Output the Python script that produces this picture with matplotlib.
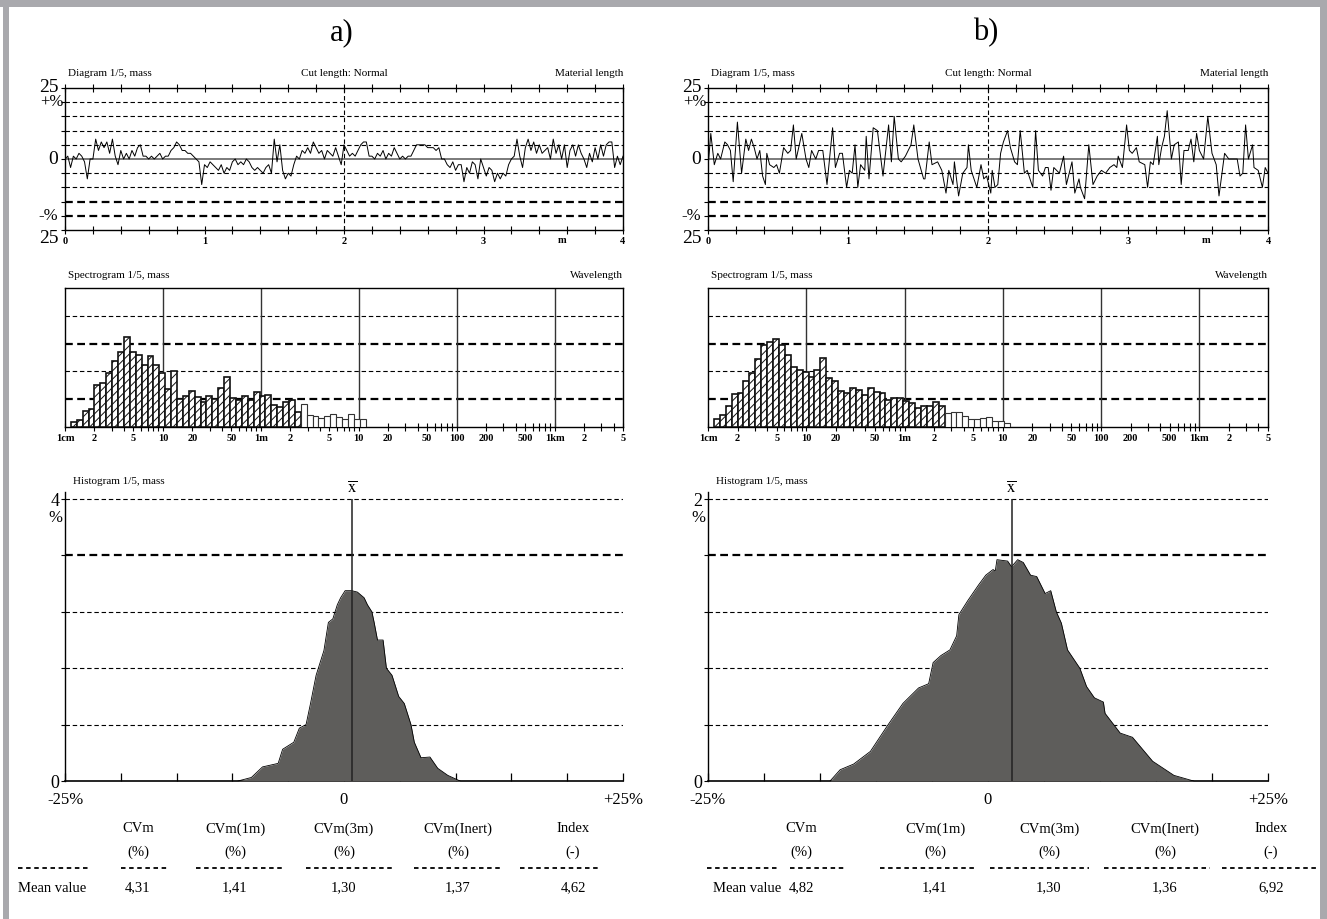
import matplotlib
matplotlib.use("Agg")
import matplotlib.pyplot as plt
import numpy as np
from matplotlib.patches import Rectangle
from matplotlib.lines import Line2D
from matplotlib.ticker import MultipleLocator, FixedLocator, NullFormatter

plt.rcParams['font.family'] = ['Liberation Serif', 'DejaVu Serif']
plt.rcParams['mathtext.fontset'] = 'stix'
plt.rcParams['hatch.linewidth'] = 0.7

# --- Diagram (mass variation along 4 m, in %) ---
# a) samples every 0.02 m
diag_a = [0, 1, -3, 1, 0, 2, 1, -1, -7, 0, 0,
          7, 3, 6, 4, 6, 2, 7, 1, -2, 3,
          0, 2, 0, 3, 1, 4, 5, 1, 1, 0,
          1, 0, 1, 2, 0, 1, 1, 3, 4, 6,
          5, 3, 3, 2, 2, 1, 0, -1, -9, -2,
          -3, -1, -2, -3, -4, -2, -5, -3, -4, -1,
          0, -2, -1, -2, 0, -1, -3, -4, -3, -4,
          -5, -3, -2, -5, 7, -1, 5, -4, -7, -5,
          -6, -2, 1, 0, 3, 2, 4, 2, 6, 4,
          2, 3, 0, 3, 2, 1, 4, 1, -2, 5,
          3, 1, 2, 1, 3, 5, 6, 6, 1, 1,
          0, 2, 1, 3, 0, 2, 1, 4, 2, 0,
          1, 0, 1, 1, 3, 5, 5, 5, 5, 4,
          4, 4, 3, 4, 0, 0, -2, -3, -1, -4,
          -2, -2, -8, -3, -5, -1, -2, -7, 0, -3,
          -6, -3, -4, -8, -5, -7, -5, -6, -2, 0,
          1, 7, 1, -3, 4, 7, 3, 6, 2, 5,
          2, 3, 4, 0, 7, 2, 5, 0, 5, -3,
          3, 5, 1, 5, 2, 0, -3, 2, -1, 4,
          0, 5, 1, 5, 6, 6, -3, 1, -2, 1]

# b) irregular samples (m, %)
diag_b_x = [0.00, 0.02, 0.045, 0.07, 0.09, 0.12, 0.14, 0.16, 0.18, 0.21, 0.24, 0.27, 0.29, 0.31,
            0.33, 0.35, 0.37, 0.39, 0.41, 0.42, 0.44, 0.47, 0.49, 0.51, 0.54, 0.57, 0.59, 0.61,
            0.63, 0.67, 0.70, 0.72, 0.74, 0.77, 0.79, 0.82, 0.85, 0.89, 0.91, 0.94, 0.96, 0.99,
            1.01, 1.03, 1.05, 1.07, 1.09, 1.12, 1.13, 1.15, 1.18, 1.21, 1.25, 1.29, 1.31, 1.33,
            1.36, 1.38, 1.41, 1.45, 1.47, 1.50, 1.54, 1.55, 1.58, 1.60, 1.64, 1.67, 1.70, 1.72,
            1.75, 1.76, 1.79, 1.82, 1.85, 1.86, 1.88, 1.92, 1.95, 1.97, 1.99, 2.02, 2.03, 2.05,
            2.07, 2.09, 2.11, 2.14, 2.16, 2.19, 2.21, 2.23, 2.26, 2.28, 2.32, 2.34, 2.36, 2.39,
            2.41, 2.43, 2.45, 2.47, 2.51, 2.54, 2.56, 2.57, 2.60, 2.62, 2.65, 2.66, 2.69, 2.72,
            2.75, 2.78, 2.81, 2.84, 2.87, 2.90, 2.92, 2.93, 2.96, 2.99, 3.01, 3.03, 3.06, 3.08,
            3.12, 3.14, 3.16, 3.18, 3.21, 3.22, 3.24, 3.26, 3.28, 3.31, 3.33, 3.36, 3.38, 3.40,
            3.43, 3.45, 3.47, 3.49, 3.51, 3.54, 3.57, 3.60, 3.63, 3.65, 3.69, 3.72, 3.75, 3.78,
            3.80, 3.82, 3.84, 3.86, 3.89, 3.90, 3.93, 3.96, 3.98, 4.00]
diag_b_y = [-3, 9, -2, 2, 0, 6, 5, 3, -8, 13, -5, 7, 3, 7,
            4, 0, 3, -6, -9, 2, -2, -3, -2, -5, 4, 2, 3, 12,
            0, 9, 0, -3, 3, 0, 3, 3, -9, 11, -3, 2, 2, -10,
            -4, -5, 5, -10, -2, -4, 8, -7, 11, 10, -6, 12, -1, 15,
            0, -1, 1, 5, 12, 0, -7, -7, 6, -2, -1, -4, -12, -4,
            -9, -1, -13, -5, -3, 5, -4, -10, -2, -7, -6, -12, -4, -10,
            -9, 2, 6, 10, 4, -1, -2, 10, -5, -4, -10, 10, -4, -6,
            -3, -3, -11, -3, -5, 1, -9, -7, -1, -12, -7, -10, -14, 5,
            -9, -6, -4, -5, -3, -2, -3, 1, -3, 12, 3, 2, 4, -1,
            -2, -10, -1, -2, 8, -2, 4, 8, 17, 0, 5, 6, -9, 3,
            3, 7, -1, 9, 3, 0, 15, 2, -2, -13, 2, 0, 0, 0,
            -6, -5, 12, 0, 5, -3, -4, -10, -3, -5]

# --- Spectrogram: 50 channels, 5 per octave, starting above 1 cm ---
spec_a = [0.18, 0.26, 0.59, 0.65, 1.52, 1.58, 1.94, 2.38, 2.71, 3.22,
          2.69, 2.58, 2.22, 2.55, 2.22, 1.96, 1.38, 2.02, 1.02, 1.12,
          1.28, 1.08, 0.91, 1.11, 0.99, 1.41, 1.81, 1.06, 0.96, 1.11,
          0.96, 1.26, 1.12, 1.16, 0.79, 0.71, 0.91, 0.96, 0.55, 0.82,
          0.44, 0.38, 0.34, 0.38, 0.46, 0.35, 0.28, 0.47, 0.29, 0.29]
spec_b = [0.29, 0.44, 0.76, 1.20, 1.24, 1.65, 1.93, 2.46, 2.94, 3.05,
          3.16, 2.94, 2.58, 2.16, 2.05, 1.99, 1.81, 2.05, 2.49, 1.75,
          1.64, 1.28, 1.22, 1.40, 1.34, 1.14, 1.41, 1.26, 1.22, 0.96,
          1.06, 1.06, 0.93, 0.87, 0.67, 0.75, 0.76, 0.90, 0.75, 0.49,
          0.55, 0.54, 0.40, 0.28, 0.28, 0.33, 0.35, 0.22, 0.20, 0.14]
n_hatched = 39
spec_ticks = [0.01, 0.02, 0.05, 0.1, 0.2, 0.5, 1, 2, 5, 10, 20, 50, 100, 200, 500, 1000, 2000, 5000]
spec_labels = ['1cm', '2', '5', '10', '20', '50', '1m', '2', '5', '10', '20', '50',
               '100', '200', '500', '1km', '2', '5']

# --- Histogram (deviation %, frequency %) ---
hist_a_x = [-9.5, -8.3, -7.3, -5.9, -5.5, -4.5, -4.0, -3.4, -3.0, -2.5, -2.3, -1.8, -1.4, -1.0,
            -0.6, -0.3, 0.1, 0.7, 1.2, 1.8, 2.1, 2.5, 2.7, 3.0, 3.5, 3.8, 4.3, 4.9, 5.4, 6.0,
            6.3, 6.9, 7.7, 8.4, 9.3, 10.4]
hist_a_y = [0, 0.05, 0.2, 0.25, 0.45, 0.55, 0.75, 0.8, 1.1, 1.5, 1.6, 1.85, 2.25, 2.3,
            2.5, 2.6, 2.7, 2.7, 2.68, 2.6, 2.5, 2.4, 2.25, 2.0, 2.0, 1.6, 1.5, 1.2, 1.1, 0.8,
            0.55, 0.33, 0.34, 0.18, 0.08, 0]
hist_b_x = [-14.1, -13.2, -12.0, -10.5, -9.0, -7.6, -6.2, -5.3, -4.9, -4.2, -3.4, -2.8, -2.6,
            -1.8, -0.85, -0.2, 0.45, 0.65, 0.8, 1.75, 2.1, 2.65, 3.15, 3.8, 4.35, 5.1, 5.6,
            6.1, 6.55, 7.1, 8.2, 8.8, 9.5, 10.3, 10.45, 11.8, 12.9, 14.7, 16.6, 18.35]
hist_b_y = [0, 0.08, 0.12, 0.21, 0.39, 0.55, 0.66, 0.69, 0.84, 0.89, 0.93, 1.03, 1.18,
            1.28, 1.39, 1.46, 1.50, 1.49, 1.57, 1.56, 1.52, 1.57, 1.55, 1.46, 1.45, 1.33, 1.35,
            1.20, 1.12, 0.93, 0.80, 0.67, 0.59, 0.56, 0.48, 0.34, 0.31, 0.14, 0.04, 0]
hist_max_a, hist_max_b = 4, 2
mean_a, mean_b = 0.7, 2.1

# --- Table ---
col_names = ['CVm', 'CVm(1m)', 'CVm(3m)', 'CVm(Inert)', 'Index']
col_units = ['(%)', '(%)', '(%)', '(%)', '(-)']
values_a = ['4,31', '1,41', '1,30', '1,37', '4,62']
values_b = ['4,82', '1,41', '1,30', '1,36', '6,92']

W, H = 1327, 919
fig = plt.figure(figsize=(W / 100, H / 100), dpi=100)
fig.patch.set_facecolor('white')


def add_ax(x0, y0, x1, y1):
    return fig.add_axes([x0 / W, 1 - y1 / H, (x1 - x0) / W, (y1 - y0) / H])


def ftext(x, y, s, **kw):
    fig.text(x / W, 1 - y / H, s, **kw)


def fline(x0, x1, y, **kw):
    fig.add_artist(Line2D([x0 / W, x1 / W], [1 - y / H, 1 - y / H],
                          transform=fig.transFigure, **kw))


THIN = dict(color='k', lw=0.8, ls=(0, (4, 2.5)))
BOLD = dict(color='k', lw=1.6, ls=(0, (3.5, 2)))

# gray frame
for (x0, y0, w, h) in [(0, 0, W, 7), (3, 0, 6, H), (1320, 0, 7, H)]:
    fig.add_artist(Rectangle((x0 / W, 1 - (y0 + h) / H), w / W, h / H,
                             transform=fig.transFigure, color='#a9a9ad', lw=0))


def diagram(ax, x, y):
    ax.set_xlim(0, 4)
    ax.set_ylim(-25, 25)
    for lv in [20, 15, 10, 5, -5, -10]:
        ax.axhline(lv, **THIN)
    for lv in [-15, -20]:
        ax.axhline(lv, **BOLD)
    ax.axhline(0, color='#7a7a7a', lw=1.4)
    ax.axvline(2, **THIN)
    ax.plot(x, y, color='k', lw=0.7)
    for s in ax.spines.values():
        s.set_linewidth(1.0)
    ax.set_xticks([0, 1, 2, 3, 4])
    ax.set_xticklabels(['0', '1', '2', '3', '4'], fontsize=7.5, fontweight='bold')
    ax.xaxis.set_minor_locator(MultipleLocator(0.2))
    ax.tick_params(axis='x', which='both', direction='inout', top=True, length=6, width=0.8, pad=2)
    ax.set_yticks(np.arange(-25, 26, 5))
    ax.set_yticklabels([])
    ax.tick_params(axis='y', direction='out', length=3, width=0.8)
    tr = ax.get_yaxis_transform()
    ax.text(-0.012, 25, '25', transform=tr, ha='right', va='center', fontsize=14)
    ax.text(-0.002, 20, '+%', transform=tr, ha='right', va='center', fontsize=12)
    ax.text(-0.012, 0, '0', transform=tr, ha='right', va='center', fontsize=14)
    ax.text(-0.012, -20, '-%', transform=tr, ha='right', va='center', fontsize=12)
    ax.text(-0.012, -25, '25', transform=tr, ha='right', va='top', fontsize=14)
    ax.text(0.89, -0.045, 'm', transform=ax.transAxes, ha='center', va='top',
            fontsize=7.5, fontweight='bold')


def spectrogram(ax, heights):
    ax.set_xscale('log')
    ax.set_xlim(0.01, 5000)
    ax.set_ylim(0, 5)
    for lv in [2, 4]:
        ax.axhline(lv, **THIN)
    for lv in [1, 3]:
        ax.axhline(lv, **BOLD)
    for d in [0.1, 1, 10, 100, 1000]:
        ax.axvline(d, color='#333333', lw=1.0)
    k = np.arange(len(heights))
    left = 0.01 * 2 ** ((k + 1) / 5)
    right = 0.01 * 2 ** ((k + 2) / 5)
    h = np.array(heights)
    ax.bar(left[:n_hatched], h[:n_hatched], width=(right - left)[:n_hatched], align='edge',
           facecolor='white', edgecolor='#111111', lw=1.2, hatch='////', zorder=3)
    ax.bar(left[n_hatched:], h[n_hatched:], width=(right - left)[n_hatched:], align='edge',
           facecolor='white', edgecolor='#333333', lw=0.8, zorder=3)
    for s in ax.spines.values():
        s.set_linewidth(1.0)
    ax.xaxis.set_major_locator(FixedLocator(spec_ticks))
    ax.set_xticklabels(spec_labels, fontsize=7.5, fontweight='bold')
    minors = [m * 10.0 ** e for e in range(-2, 4) for m in [3, 4, 6, 7, 8, 9]]
    ax.xaxis.set_minor_locator(FixedLocator(minors))
    ax.xaxis.set_minor_formatter(NullFormatter())
    ax.tick_params(axis='x', which='both', direction='inout', length=6, width=0.8, pad=2)
    ax.set_yticks([])


def histogram(ax, hx, hy, ymax, mean):
    ax.set_xlim(-25, 25)
    ax.set_ylim(0, ymax * 1.025)
    levels = [ymax * k / 5 for k in range(1, 6)]
    for i, lv in enumerate(levels):
        ax.axhline(lv, **(BOLD if i == 3 else THIN))
    ax.fill_between(hx, hy, color='#5e5d5b', lw=0, zorder=3)
    ax.plot(hx, hy, color='k', lw=0.6, zorder=4)
    ax.vlines(mean, 0, ymax, color='#222222', lw=1.1, zorder=5)
    ax.annotate(r'$\overline{\mathrm{x}}$', xy=(mean, ymax), xytext=(0, 2),
                textcoords='offset points', ha='center', va='bottom', fontsize=12)
    for s in ['top', 'right']:
        ax.spines[s].set_visible(False)
    ax.spines['left'].set_linewidth(1.0)
    ax.spines['bottom'].set_linewidth(1.2)
    ax.set_xticks([-25, 0, 25])
    ax.set_xticklabels(['-25%', '0', '+25%'], fontsize=12)
    ax.xaxis.set_minor_locator(MultipleLocator(5))
    ax.tick_params(axis='x', which='both', direction='in', length=6, width=0.9, pad=8)
    ax.set_yticks([0] + levels)
    ax.set_yticklabels(['0', '', '', '', '', str(ymax)], fontsize=13)
    ax.tick_params(axis='y', direction='out', length=3, width=0.8, pad=1)
    ax.annotate('%', xy=(0, ymax), xycoords=('axes fraction', 'data'), xytext=(-2, -14),
                textcoords='offset points', ha='right', va='center', fontsize=12)


panels = [
    dict(x0=65, x1=623, label='a)', diag=(np.linspace(0, 4, len(diag_a)), diag_a),
         spec=spec_a, hist=(hist_a_x, hist_a_y, hist_max_a, mean_a), vals=values_a,
         cols=[138, 235, 344, 458, 573], left=18,
         dashes=[(18, 90), (121, 168), (196, 282), (306, 392), (414, 500), (520, 598)]),
    dict(x0=708, x1=1268, label='b)', diag=(diag_b_x, diag_b_y),
         spec=spec_b, hist=(hist_b_x, hist_b_y, hist_max_b, mean_b), vals=values_b,
         cols=[801, 935, 1049, 1165, 1271], left=713,
         dashes=[(707, 779), (790, 845), (880, 976), (990, 1089), (1104, 1210), (1222, 1318)]),
]

for p in panels:
    x0, x1 = p['x0'], p['x1']
    xc = (x0 + x1) / 2
    ftext(xc - 2, 33, p['label'], ha='center', va='center', fontsize=22)

    ax = add_ax(x0, 88, x1, 230)
    diagram(ax, *p['diag'])
    ftext(x0 + 3, 73, 'Diagram 1/5, mass', ha='left', va='center', fontsize=8)
    ftext(xc, 73, 'Cut length: Normal', ha='center', va='center', fontsize=8)
    ftext(x1, 73, 'Material length', ha='right', va='center', fontsize=8)

    ax = add_ax(x0, 288, x1, 427)
    spectrogram(ax, p['spec'])
    ftext(x0 + 3, 275, 'Spectrogram 1/5, mass', ha='left', va='center', fontsize=8)
    ftext(x1, 275, 'Wavelength', ha='right', va='center', fontsize=8)

    ax = add_ax(x0, 492, x1, 781)
    histogram(ax, *p['hist'])
    ftext(x0 + 8, 482, 'Histogram 1/5, mass', ha='left', va='center', fontsize=8)

    for cx, name, unit, val in zip(p['cols'], col_names, col_units, p['vals']):
        ftext(cx, 829, name, ha='center', va='center', fontsize=10.5)
        ftext(cx, 852, unit, ha='center', va='center', fontsize=10.5)
        ftext(cx, 888, val, ha='center', va='center', fontsize=10.5)
    ftext(p['left'], 888, 'Mean value', ha='left', va='center', fontsize=10.5)
    for a, b in p['dashes']:
        fline(a, b, 868, color='k', lw=1.3, ls=(0, (2.5, 2)))

fig.savefig('out.png', dpi=100)
